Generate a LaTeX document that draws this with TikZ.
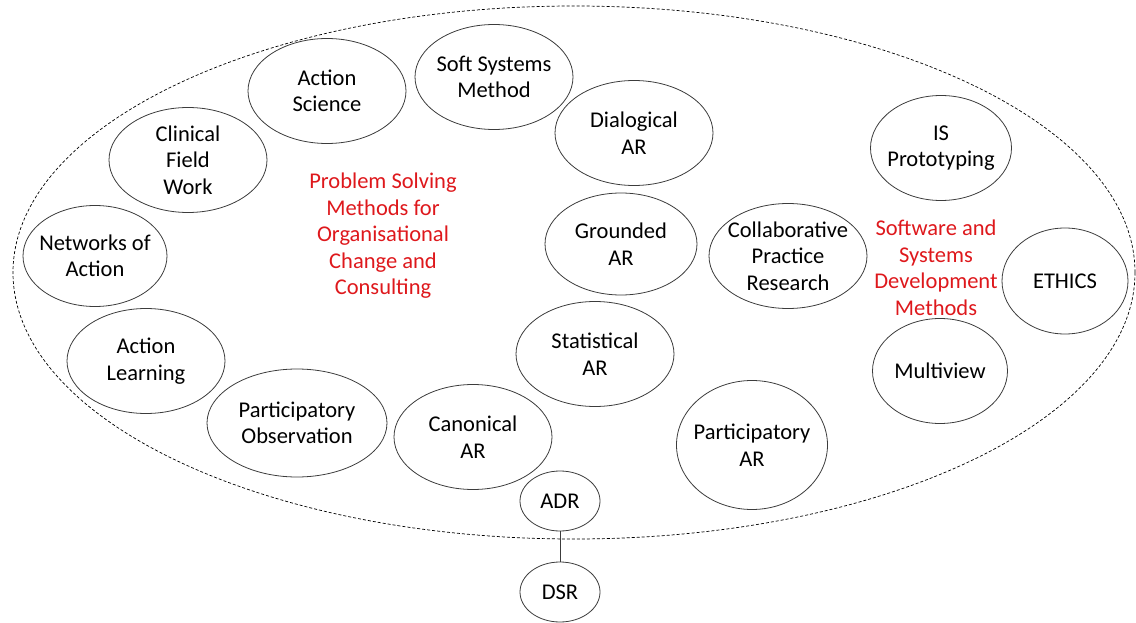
\documentclass[tikz,border=0pt]{standalone}
\usepackage{fontspec}
\setmainfont{Carlito}
\usepackage{tikz}
\usetikzlibrary{shapes.geometric}
\definecolor{methodred}{RGB}{222,24,28}
\definecolor{edgegrey}{RGB}{60,60,60}

\tikzset{
  meth/.style={draw=edgegrey, line width=0.8pt, ellipse, inner sep=-24pt,
    minimum width=158pt, minimum height=105pt, align=center,
    font=\fontsize{22.5}{26.5}\selectfont},
  grouptext/.style={text=methodred, align=center, inner sep=0.75pt,
    font=\fontsize{22.5}{26.5}\selectfont}
}

\begin{document}
\begin{tikzpicture}[x=1pt,y=1pt,yscale=-1,xscale=1]
\useasboundingbox (0,0) rectangle (1136,623);

%Shape: Ellipse (outer group)
\draw [dash pattern=on 3pt off 2pt, line width=0.7pt] (574,272.5) ellipse (561 and 266.5);

%Shape: Ellipse [left half]
\node [meth] (actsci) at (327,91) {Action\\Science};
\node [meth] (softsys) at (494,77) {Soft Systems\\Method};
\node [meth] (clinical) at (188,160) {Clinical\\Field\\Work};
\node [meth, minimum width=144pt, minimum height=101pt] (networks) at (95,256) {Networks of\\Action};
\node [meth] (actlearn) at (146,361) {Action\\Learning};
\node [meth, minimum width=180pt, minimum height=108pt] (partobs) at (297,423) {Participatory\\Observation};
\node [meth] (canonical) at (473,437) {Canonical\\AR};

%Shape: Ellipse [middle]
\node [meth] (dialogical) at (634,133) {Dialogical\\AR};
\node [meth, minimum width=152pt, minimum height=102pt] (grounded) at (621,244) {Grounded\\AR};
\node [meth] (statistical) at (595,354) {Statistical\\AR};
\node [meth, minimum width=151pt, minimum height=129pt] (partar) at (752,445) {Participatory\\AR};
\node [meth] (collab) at (788,256) {Collaborative\\Practice\\Research};

%Shape: Ellipse [right half]
\node [meth, minimum width=141pt] (isproto) at (941,148) {IS\\Prototyping};
\node [meth, minimum width=126pt, minimum height=106pt] (ethics) at (1065,281) {ETHICS};
\node [meth, minimum width=135pt] (multiview) at (940,371) {Multiview};

%Shape: Ellipse [ADR and DSR]
\node [meth, minimum width=80pt, minimum height=60pt] (adr) at (560,501) {ADR};
\node [meth, minimum width=80pt, minimum height=60pt] (dsr) at (560,592) {DSR};
%Straight Lines
\draw [edgegrey, line width=0.9pt] (adr) -- (dsr);

% Text Node
\node [grouptext] (probsolve) at (383,236) {Problem Solving\\Methods for\\Organisational\\Change and\\Consulting};
% Text Node
\node [grouptext] (softdev) at (936,268) {Software and\\Systems\\Development\\Methods};

\end{tikzpicture}
\end{document}
